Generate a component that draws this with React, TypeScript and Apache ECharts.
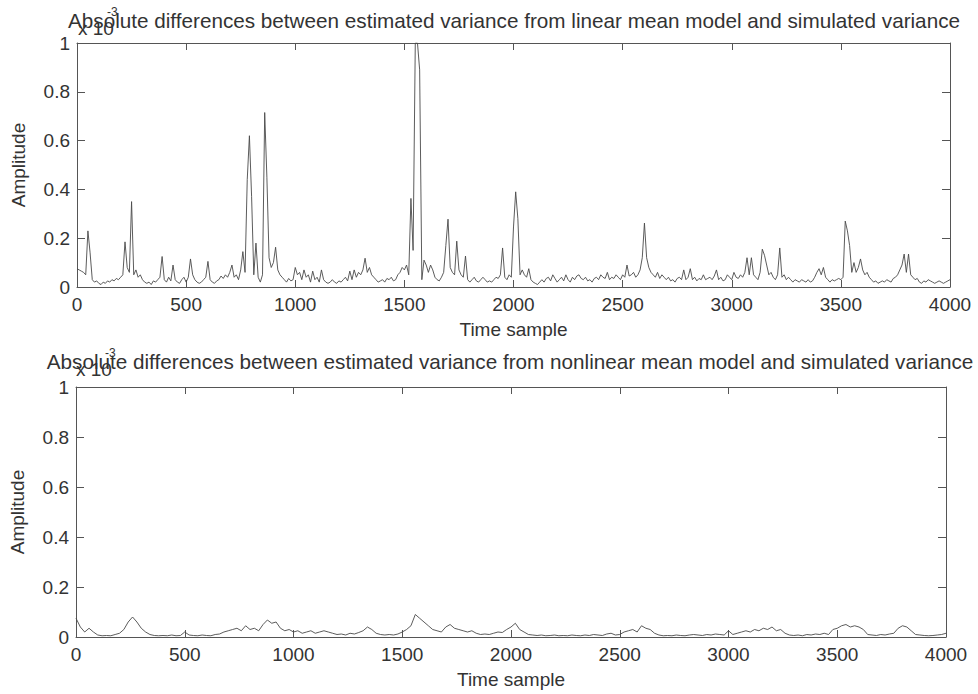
import React, { useEffect, useRef } from "react";
import * as echarts from "echarts";

// Sample spacing of the arrays below (time samples)
const topStep = 10;
const bottomStep = 20;

// Linear mean model: |estimated - simulated| variance (x 10^-3), every 10 samples, 0..4000
const topValues: number[] = [
  // 0-490
  0.075, 0.07, 0.065, 0.06, 0.05, 0.23, 0.14, 0.03, 0.02, 0.025,
  0.015, 0.01, 0.02, 0.015, 0.025, 0.02, 0.03, 0.025, 0.035, 0.03,
  0.04, 0.05, 0.185, 0.08, 0.06, 0.35, 0.05, 0.07, 0.04, 0.05,
  0.03, 0.02, 0.015, 0.02, 0.01, 0.025, 0.02, 0.03, 0.04, 0.125,
  0.03, 0.02, 0.04, 0.025, 0.09, 0.03, 0.02, 0.015, 0.03, 0.04,
  // 500-990
  0.02, 0.04, 0.115, 0.05, 0.03, 0.02, 0.015, 0.02, 0.03, 0.04,
  0.105, 0.03, 0.02, 0.015, 0.025, 0.03, 0.045, 0.035, 0.05, 0.04,
  0.06, 0.09, 0.04, 0.05, 0.03, 0.07, 0.145, 0.06, 0.44, 0.62,
  0.37, 0.05, 0.18, 0.04, 0.02, 0.05, 0.715, 0.45, 0.12, 0.08,
  0.1, 0.163, 0.07, 0.05, 0.04, 0.03, 0.02, 0.035, 0.025, 0.03,
  // 1000-1490
  0.08, 0.05, 0.06, 0.03, 0.07, 0.04, 0.05, 0.02, 0.065, 0.03,
  0.04, 0.02, 0.07, 0.03, 0.02, 0.015, 0.02, 0.03, 0.02, 0.015,
  0.025, 0.02, 0.03, 0.04, 0.025, 0.065, 0.03, 0.07, 0.04, 0.06,
  0.05, 0.07, 0.118, 0.06, 0.08, 0.05, 0.04, 0.03, 0.02, 0.025,
  0.03, 0.02, 0.035, 0.03, 0.04, 0.025, 0.03, 0.05, 0.06, 0.08,
  // 1500-1990
  0.07, 0.09, 0.05, 0.363, 0.15, 1.0, 1.0, 0.89, 0.03, 0.11,
  0.09, 0.06, 0.09, 0.07, 0.04, 0.03, 0.025, 0.04, 0.06, 0.17,
  0.278, 0.08, 0.06, 0.05, 0.188, 0.07, 0.05, 0.04, 0.127, 0.03,
  0.02, 0.03, 0.04, 0.025, 0.02, 0.03, 0.04, 0.03, 0.02, 0.025,
  0.02, 0.03, 0.04, 0.035, 0.05, 0.16, 0.04, 0.03, 0.05, 0.04,
  // 2000-2490
  0.246, 0.39, 0.28, 0.05, 0.07, 0.05, 0.04, 0.075, 0.03, 0.02,
  0.015, 0.01, 0.02, 0.03, 0.02, 0.035, 0.04, 0.025, 0.05, 0.035,
  0.02, 0.03, 0.04, 0.025, 0.05, 0.03, 0.02, 0.04, 0.03, 0.045,
  0.05, 0.035, 0.03, 0.04, 0.025, 0.03, 0.02, 0.035, 0.04, 0.03,
  0.05, 0.04, 0.035, 0.06, 0.03, 0.04, 0.035, 0.05, 0.04, 0.03,
  // 2500-2990
  0.05, 0.04, 0.09, 0.045, 0.05, 0.06, 0.04, 0.05, 0.07, 0.12,
  0.262, 0.12, 0.08, 0.06, 0.05, 0.04, 0.06, 0.035, 0.05, 0.04,
  0.03, 0.04, 0.025, 0.03, 0.02, 0.035, 0.04, 0.03, 0.07, 0.03,
  0.04, 0.075, 0.03, 0.04, 0.025, 0.035, 0.03, 0.05, 0.03, 0.035,
  0.04, 0.03, 0.045, 0.07, 0.03, 0.04, 0.025, 0.03, 0.05, 0.04,
  // 3000-3490
  0.03, 0.06, 0.04, 0.035, 0.05, 0.04, 0.06, 0.12, 0.05, 0.12,
  0.05, 0.04, 0.03, 0.06, 0.155, 0.13, 0.09, 0.05, 0.06, 0.04,
  0.03, 0.05, 0.16, 0.04, 0.05, 0.03, 0.04, 0.03, 0.02, 0.03,
  0.025, 0.02, 0.03, 0.025, 0.02, 0.03, 0.02, 0.025, 0.04, 0.06,
  0.075, 0.05, 0.08, 0.04, 0.03, 0.02, 0.03, 0.025, 0.03, 0.035,
  // 3500-4000
  0.03, 0.04, 0.27, 0.23, 0.17, 0.06, 0.1, 0.06, 0.08, 0.115,
  0.07, 0.05, 0.06, 0.04, 0.03, 0.02, 0.025, 0.015, 0.02, 0.025,
  0.02, 0.03, 0.025, 0.02, 0.035, 0.04, 0.05, 0.07, 0.09, 0.135,
  0.06, 0.135, 0.05, 0.04, 0.03, 0.035, 0.02, 0.015, 0.025, 0.02,
  0.03, 0.025, 0.02, 0.015, 0.02, 0.025, 0.02, 0.015, 0.02, 0.025,
  0.03,
];

// Nonlinear mean model, every 20 samples, 0..4000
const bottomValues: number[] = [
  0.075, 0.04, 0.02, 0.035, 0.02, 0.008, 0.005, 0.006, 0.005, 0.01,
  0.015, 0.03, 0.06, 0.08, 0.06, 0.035, 0.02, 0.01, 0.006, 0.005,
  0.006, 0.005, 0.008, 0.005, 0.006, 0.02, 0.008, 0.006, 0.005, 0.008,
  0.006, 0.005, 0.01, 0.012, 0.02, 0.025, 0.03, 0.035, 0.025, 0.045,
  0.03, 0.035, 0.025, 0.05, 0.068, 0.055, 0.06, 0.035, 0.025, 0.03,
  0.02, 0.025, 0.015, 0.02, 0.025, 0.015, 0.02, 0.025, 0.02, 0.015,
  0.01, 0.012, 0.008, 0.015, 0.012, 0.018, 0.025, 0.04, 0.03, 0.015,
  0.01, 0.008, 0.01, 0.008, 0.012, 0.02, 0.03, 0.045, 0.09, 0.075,
  0.06, 0.045, 0.03, 0.025, 0.02, 0.04, 0.05, 0.035, 0.03, 0.025,
  0.02, 0.025, 0.015, 0.01, 0.012, 0.01, 0.015, 0.02, 0.018, 0.03,
  0.04, 0.055, 0.03, 0.02, 0.01, 0.008, 0.006, 0.008, 0.005, 0.006,
  0.008, 0.005, 0.006, 0.005, 0.008, 0.006, 0.005, 0.008, 0.006, 0.01,
  0.008, 0.006, 0.012, 0.015, 0.008, 0.01, 0.02, 0.025, 0.03, 0.02,
  0.045, 0.035, 0.03, 0.015, 0.008, 0.005, 0.006, 0.005, 0.008, 0.006,
  0.005, 0.008, 0.01, 0.008, 0.006, 0.01, 0.008, 0.012, 0.01, 0.008,
  0.025, 0.01, 0.015, 0.02, 0.025, 0.02, 0.03, 0.025, 0.035, 0.03,
  0.04, 0.025, 0.03, 0.015, 0.008, 0.006, 0.008, 0.005, 0.01, 0.008,
  0.012, 0.01, 0.015, 0.01, 0.03, 0.035, 0.045, 0.05, 0.04, 0.045,
  0.04, 0.03, 0.01, 0.008, 0.006, 0.01, 0.008, 0.012, 0.015, 0.035,
  0.045, 0.04, 0.025, 0.01, 0.008, 0.006, 0.005, 0.006, 0.008, 0.01,
  0.015,
];

const topTitle =
  "Absolute differences between estimated variance from linear mean model and simulated variance";
const bottomTitle =
  "Absolute differences between estimated variance from nonlinear mean model and simulated variance";
const xName = "Time sample";
const yName = "Amplitude";
const expBase = "x 10";
const expPower = "-3";

const FONT = "'Liberation Sans', Arial, Helvetica, sans-serif";
const TXT = "#333";
const AX = "#555";

export default function App() {
  const ref = useRef<HTMLDivElement>(null);
  useEffect(() => {
    if (!ref.current) return;
    const chart = echarts.init(ref.current, undefined, { renderer: "svg" });

    const topData = topValues.map((v, i) => [i * topStep, v]);
    const bottomData = bottomValues.map((v, i) => [i * bottomStep, v]);

    const grids = [
      { left: 77, top: 43, width: 873, height: 244 },
      { left: 74, top: 387, width: 872, height: 250 },
    ];

    const mkX = (g: number, pos: "bottom" | "top") => ({
      gridIndex: g,
      type: "value",
      position: pos,
      min: 0,
      max: 4000,
      interval: 500,
      axisLine: { show: true, onZero: false, lineStyle: { color: AX, width: 1 } },
      axisTick: { show: true, inside: true, length: 7, lineStyle: { color: AX } },
      axisLabel: {
        show: pos === "bottom",
        fontSize: 19,
        color: TXT,
        fontFamily: FONT,
        margin: 8,
        formatter: (v: number) => String(v),
      },
      splitLine: { show: false },
      name: pos === "bottom" ? xName : "",
      nameLocation: "middle",
      nameGap: 33,
      nameTextStyle: { fontSize: 19, color: TXT, fontFamily: FONT },
    });
    const mkY = (g: number, pos: "left" | "right") => ({
      gridIndex: g,
      type: "value",
      position: pos,
      min: 0,
      max: 1,
      interval: 0.2,
      axisLine: { show: true, onZero: false, lineStyle: { color: AX, width: 1 } },
      axisTick: { show: true, inside: true, length: 8, lineStyle: { color: AX } },
      axisLabel: {
        show: pos === "left",
        fontSize: 19,
        color: TXT,
        fontFamily: FONT,
        margin: 7,
      },
      splitLine: { show: false },
      name: pos === "left" ? yName : "",
      nameLocation: "middle",
      nameGap: 49,
      nameTextStyle: { fontSize: 19, color: TXT, fontFamily: FONT },
    });

    chart.setOption({
      animation: false,
      backgroundColor: "#ffffff",
      grid: grids,
      xAxis: [mkX(0, "bottom"), mkX(0, "top"), mkX(1, "bottom"), mkX(1, "top")],
      yAxis: [mkY(0, "left"), mkY(0, "right"), mkY(1, "left"), mkY(1, "right")],
      series: [
        {
          type: "line",
          xAxisIndex: 0,
          yAxisIndex: 0,
          data: topData,
          symbol: "none",
          lineStyle: { color: "#4a4a4a", width: 0.9 },
          clip: true,
        },
        {
          type: "line",
          xAxisIndex: 2,
          yAxisIndex: 2,
          data: bottomData,
          symbol: "none",
          lineStyle: { color: "#4a4a4a", width: 0.9 },
          clip: true,
        },
      ],
      graphic: [
        {
          type: "text",
          x: 78,
          y: 28,
          style: { text: expBase, fontSize: 19, fill: TXT, fontFamily: FONT, verticalAlign: "middle" },
        },
        {
          type: "text",
          x: 107,
          y: 12,
          style: { text: expPower, fontSize: 12, fill: TXT, fontFamily: FONT, verticalAlign: "middle" },
        },
        {
          type: "text",
          x: 514,
          y: 20,
          style: {
            text: topTitle,
            fontSize: 20.7,
            fill: TXT,
            fontFamily: FONT,
            align: "center",
            verticalAlign: "middle",
          },
        },
        {
          type: "text",
          x: 76,
          y: 369,
          style: { text: expBase, fontSize: 19, fill: TXT, fontFamily: FONT, verticalAlign: "middle" },
        },
        {
          type: "text",
          x: 105,
          y: 353,
          style: { text: expPower, fontSize: 12, fill: TXT, fontFamily: FONT, verticalAlign: "middle" },
        },
        {
          type: "text",
          x: 510,
          y: 361,
          style: {
            text: bottomTitle,
            fontSize: 20.7,
            fill: TXT,
            fontFamily: FONT,
            align: "center",
            verticalAlign: "middle",
          },
        },
      ],
    });

    return () => chart.dispose();
  }, []);

  return (
    <div
      ref={ref}
      style={{ position: "fixed", left: 0, top: 0, width: 978, height: 694, background: "#fff" }}
    />
  );
}
